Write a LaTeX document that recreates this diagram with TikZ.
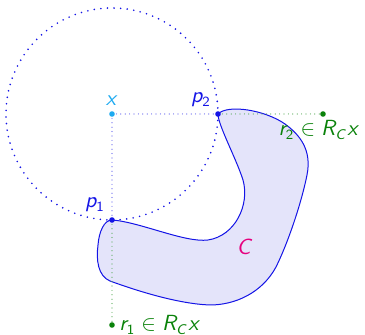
\documentclass[tikz,border=0pt]{standalone}
\DeclareMathAlphabet{\mathsfi}{OT1}{cmss}{m}{sl}
\DeclareMathAlphabet{\mathsfu}{OT1}{cmss}{m}{n}
\definecolor{myblue}{RGB}{20,20,230}
\definecolor{mygreen}{RGB}{10,130,10}
\definecolor{mycyan}{RGB}{30,170,240}
\definecolor{mymag}{RGB}{230,0,126}
\definecolor{myfill}{RGB}{228,228,250}
\begin{document}
\begin{tikzpicture}[x=0.5pt,y=-0.5pt,
  pt/.style={circle,fill,inner sep=0pt,minimum size=2.8pt},
  circdot/.style={myblue,line width=0.9pt,line cap=round,dash pattern=on 0pt off 3.3pt},
  bluedot/.style={myblue!70,line width=0.6pt,line cap=round,dash pattern=on 0pt off 2.2pt},
  greendot/.style={mygreen!70,line width=0.6pt,line cap=round,dash pattern=on 0pt off 2.2pt},
  lbl/.style={inner sep=1pt,font=\fontsize{10.5}{12}\selectfont}]
\useasboundingbox (0,0) rectangle (365,335);
\coordinate (x) at (112,114);
\coordinate (p2) at (218,114);
\coordinate (p1) at (112,220);
\coordinate (r2) at (323,114);
\coordinate (r1) at (112,325);
% shape C
\draw[myblue,fill=myfill,line width=0.5pt] (p2) .. controls (228,104) and (265,110) .. (285,124)
  .. controls (300,135) and (312,150) .. (307,175)
  .. controls (301,205) and (287,245) .. (276,267)
  .. controls (262,293) and (235,305) .. (210,305)
  .. controls (180,304) and (140,292) .. (110,281)
  .. controls (98,276) and (96,260) .. (98,245)
  .. controls (99,232) and (104,220) .. (p1)
  .. controls (140,222) and (185,243) .. (208,240)
  .. controls (235,236) and (250,205) .. (243,180)
  .. controls (236,158) and (218,125) .. (p2) -- cycle;
% circle
\draw[circdot] (x) circle[radius=106];
% dotted lines
\draw[bluedot] (x) -- (p2);
\draw[bluedot] (x) -- (p1);
\draw[greendot] (p2) -- (r2);
\draw[greendot] (p1) -- (r1);
% points
\node[pt,mycyan] (nx) at (x) {};
\node[pt,myblue] (np2) at (p2) {};
\node[pt,myblue] (np1) at (p1) {};
\node[pt,mygreen] (nr2) at (r2) {};
\node[pt,mygreen] (nr1) at (r1) {};
% labels
\node[lbl,mycyan] (lx) at (112,101) {$\mathsfi{x}$};
\node[lbl,myblue] (lp2) at (201,100) {$\mathsfi{p}_{\mathsfu{2}}$};
\node[lbl,myblue] (lp1) at (95,205) {$\mathsfi{p}_{\mathsfu{1}}$};
\node[lbl,mygreen,anchor=east] (lr2) at (362,130) {$\mathsfi{r}_{\mathsfu{2}}\in\mathsfi{R}_{\mathsfi{C}}\mathsfi{x}$};
\node[lbl,mygreen,anchor=west] (lr1) at (117,325) {$\mathsfi{r}_{\mathsfu{1}}\in\mathsfi{R}_{\mathsfi{C}}\mathsfi{x}$};
\node[lbl,mymag] (lc) at (245,247) {$\mathsfi{C}$};
\end{tikzpicture}
\end{document}
